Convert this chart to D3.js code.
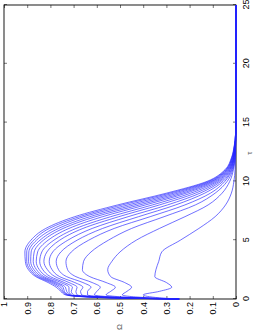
<!DOCTYPE html>
<html><head><meta charset="utf-8">
<script src="https://cdn.jsdelivr.net/npm/d3@7"></script>
<style>body{margin:0;background:#fff}svg{display:block}</style>
</head><body>
<script>
const tau = [0, 0.1, 0.35, 0.65, 1.0, 1.4, 1.9, 2.5, 3.2, 4, 5, 6, 7, 8, 9, 10, 11, 12, 13, 14, 25];
const omega0  = [0.245,0.33,0.40,0.33,0.277,0.30,0.35,0.345,0.333,0.32,0.24,0.16,0.09,0.045,0.02,0.009,0.004,0.002,0.001,0,0];
const omega1  = [0.245,0.37,0.49,0.47,0.45,0.48,0.54,0.553,0.535,0.50,0.43,0.33,0.22,0.12,0.06,0.027,0.011,0.004,0.002,0,0];
const omega2  = [0.245,0.41,0.56,0.54,0.52,0.56,0.63,0.662,0.657,0.625,0.55,0.45,0.31,0.175,0.09,0.038,0.014,0.005,0.002,0.001,0];
const omega3  = [0.245,0.44,0.61,0.60,0.585,0.62,0.69,0.726,0.733,0.71,0.635,0.525,0.37,0.22,0.11,0.048,0.017,0.006,0.002,0.001,0];
const omega4  = [0.245,0.46,0.64,0.64,0.625,0.66,0.73,0.765,0.775,0.755,0.685,0.575,0.42,0.26,0.135,0.056,0.02,0.008,0.003,0.001,0];
const omega5  = [0.245,0.48,0.665,0.67,0.66,0.695,0.76,0.793,0.805,0.79,0.725,0.62,0.465,0.295,0.155,0.065,0.023,0.009,0.003,0.001,0];
const omega6  = [0.245,0.49,0.685,0.69,0.685,0.72,0.78,0.813,0.828,0.815,0.76,0.66,0.505,0.33,0.175,0.073,0.026,0.010,0.004,0.001,0];
const omega7  = [0.245,0.50,0.70,0.71,0.705,0.74,0.80,0.833,0.846,0.837,0.785,0.69,0.54,0.36,0.195,0.081,0.029,0.011,0.004,0.001,0];
const omega8  = [0.245,0.51,0.71,0.72,0.72,0.755,0.815,0.848,0.861,0.855,0.81,0.72,0.575,0.39,0.215,0.089,0.032,0.012,0.005,0.002,0];
const omega9  = [0.245,0.52,0.715,0.73,0.735,0.77,0.828,0.86,0.874,0.87,0.83,0.745,0.605,0.415,0.232,0.097,0.035,0.014,0.005,0.002,0];
const omega10 = [0.245,0.53,0.72,0.74,0.745,0.78,0.838,0.871,0.885,0.883,0.845,0.765,0.63,0.44,0.25,0.104,0.038,0.015,0.006,0.002,0];
const omega11 = [0.245,0.54,0.725,0.745,0.755,0.79,0.848,0.88,0.894,0.893,0.86,0.785,0.655,0.465,0.268,0.111,0.041,0.017,0.007,0.002,0];
const omega12 = [0.245,0.55,0.73,0.75,0.765,0.80,0.856,0.888,0.902,0.902,0.872,0.805,0.675,0.49,0.285,0.118,0.044,0.018,0.007,0.002,0];
const omega13 = [0.245,0.56,0.735,0.755,0.775,0.81,0.863,0.895,0.908,0.91,0.884,0.82,0.695,0.51,0.30,0.125,0.047,0.020,0.008,0.002,0];
const series = [omega0,omega1,omega2,omega3,omega4,omega5,omega6,omega7,omega8,omega9,omega10,omega11,omega12,omega13];
const tauTicks = [0,5,10,15,20,25];
const omegaTicks = [0,0.1,0.2,0.3,0.4,0.5,0.6,0.7,0.8,0.9,1];

const W = 258, H = 331;
const pw = 294, ph = 232;
const svg = d3.select("body").append("svg").attr("width", W).attr("height", H);
const g = svg.append("g").attr("transform", "translate(4,299) rotate(-90)");

const x = d3.scaleLinear().domain([0,25]).range([0,pw]);
const y = d3.scaleLinear().domain([0,1]).range([ph,0]);

const font = "'Liberation Sans', Arial, sans-serif";
const line = d3.line().x((d,i)=>x(tau[i])).y(d=>y(d)).curve(d3.curveMonotoneX);

// axes
g.append("g").attr("transform",`translate(0,${ph})`)
  .call(d3.axisBottom(x).tickValues(tauTicks).tickSizeInner(-3).tickSizeOuter(0).tickPadding(7).tickFormat(d3.format("d")));
g.append("g")
  .call(d3.axisTop(x).tickValues(tauTicks).tickSizeInner(-3).tickSizeOuter(0).tickFormat(""));
g.append("g")
  .call(d3.axisLeft(y).tickValues(omegaTicks).tickSizeInner(-3).tickSizeOuter(0).tickPadding(3).tickFormat(d=>d===0?"0":d===1?"1":d3.format(".1f")(d)));
g.append("g").attr("transform",`translate(${pw},0)`)
  .call(d3.axisRight(y).tickValues(omegaTicks).tickSizeInner(-3).tickSizeOuter(0).tickFormat(""));
g.selectAll(".domain").remove();
g.selectAll(".tick line").attr("stroke","#555").attr("stroke-width",0.8);
g.selectAll(".tick text").attr("font-family",font).attr("font-size",9).attr("fill","#000");

// frame
g.append("rect").attr("x",0).attr("y",0).attr("width",pw).attr("height",ph)
  .attr("fill","none").attr("stroke","#000").attr("stroke-width",0.9);

// curves drawn above the frame
g.append("g").selectAll("path").data(series).join("path")
  .attr("d", line).attr("fill","none").attr("stroke","#2222ff").attr("stroke-width",0.65);

// titles
g.append("text").attr("x", -28).attr("y", y(0.5)).attr("text-anchor","middle")
  .attr("dominant-baseline","middle")
  .attr("font-family",font).attr("font-size",8).attr("fill","#555").text("Ω");
g.append("text").attr("x", x(12.4)).attr("y", ph+14).attr("text-anchor","middle")
  .attr("dominant-baseline","middle")
  .attr("font-family",font).attr("font-size",8).attr("fill","#555").text("τ");
</script>
</body></html>
